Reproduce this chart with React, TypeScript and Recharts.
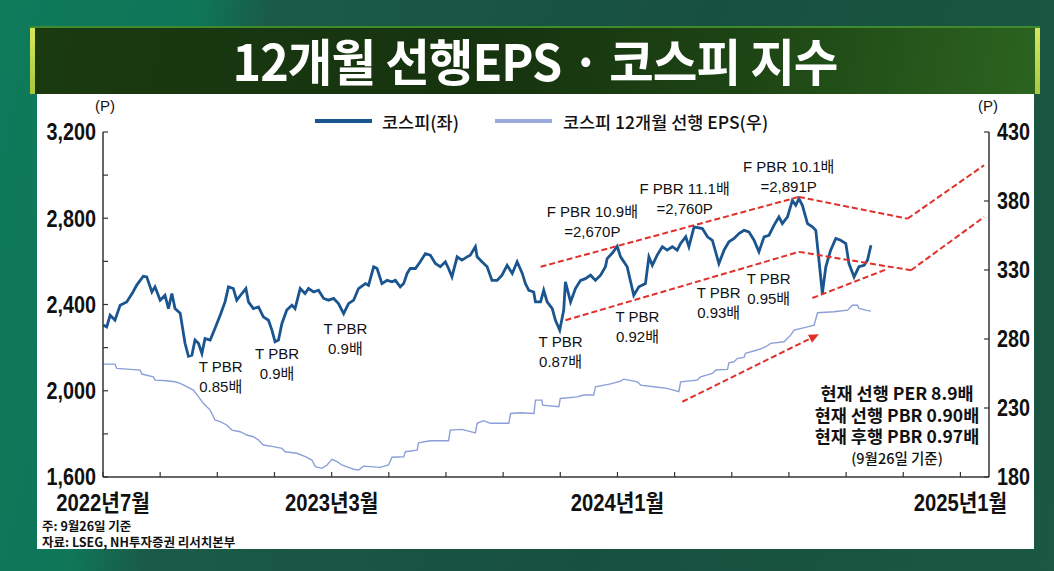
import React from "react";
import {
  LineChart,
  Line,
  XAxis,
  YAxis,
  ReferenceLine,
  ReferenceDot,
} from "recharts";

// x = months since 2022-07-01
const kospiPoints: [number, number][] = [
  [0.01, 2305], [0.13, 2296], [0.25, 2350], [0.42, 2327], [0.6, 2397], [0.83, 2412],
  [1.05, 2458], [1.18, 2490], [1.41, 2531], [1.53, 2528], [1.71, 2458], [1.82, 2482],
  [2.0, 2420], [2.17, 2443], [2.29, 2381], [2.41, 2451], [2.52, 2381], [2.7, 2360],
  [2.87, 2220], [2.99, 2160], [3.11, 2165], [3.22, 2235], [3.34, 2220], [3.46, 2173],
  [3.57, 2242], [3.75, 2235], [3.92, 2290], [4.1, 2350], [4.27, 2412], [4.39, 2482],
  [4.56, 2474], [4.68, 2420], [4.86, 2451], [5.0, 2474], [5.09, 2412], [5.26, 2381],
  [5.44, 2389], [5.61, 2343], [5.79, 2327], [5.91, 2281], [6.02, 2227], [6.14, 2235],
  [6.26, 2312], [6.43, 2374], [6.61, 2397], [6.72, 2381], [6.9, 2474], [7.07, 2451],
  [7.19, 2474], [7.37, 2458], [7.54, 2466], [7.72, 2428], [7.89, 2420], [8.07, 2428],
  [8.24, 2404], [8.42, 2358], [8.59, 2404], [8.77, 2420], [8.94, 2474], [9.18, 2497],
  [9.29, 2489], [9.47, 2575], [9.59, 2567], [9.76, 2497], [9.94, 2512], [10.11, 2505],
  [10.23, 2512], [10.4, 2482], [10.52, 2497], [10.64, 2544], [10.75, 2567], [10.93, 2567],
  [11.1, 2598], [11.28, 2636], [11.45, 2629], [11.63, 2590], [11.8, 2575], [11.98, 2598],
  [12.09, 2567], [12.21, 2528], [12.39, 2621], [12.56, 2606], [12.74, 2621], [12.85, 2629],
  [13.03, 2668], [13.09, 2621], [13.26, 2598], [13.44, 2575], [13.61, 2512], [13.79, 2512],
  [13.96, 2536], [14.14, 2582], [14.32, 2544], [14.49, 2598], [14.67, 2544], [14.78, 2497],
  [14.9, 2466], [15.07, 2458], [15.13, 2412], [15.31, 2412], [15.42, 2466], [15.54, 2412],
  [15.72, 2381], [15.83, 2327], [15.98, 2281], [16.12, 2374], [16.18, 2505], [16.36, 2412],
  [16.53, 2474], [16.71, 2512], [16.88, 2520], [17.06, 2536], [17.23, 2512], [17.41, 2536],
  [17.58, 2575], [17.64, 2613], [17.83, 2640], [17.99, 2670], [18.11, 2621], [18.34, 2575],
  [18.57, 2443], [18.75, 2482], [18.98, 2497], [19.1, 2621], [19.22, 2582], [19.39, 2629],
  [19.57, 2668], [19.74, 2652], [19.92, 2668], [20.09, 2652], [20.21, 2683], [20.39, 2714],
  [20.5, 2668], [20.68, 2760], [20.97, 2752], [21.15, 2714], [21.32, 2698], [21.55, 2590],
  [21.73, 2652], [21.9, 2691], [22.08, 2706], [22.25, 2729], [22.43, 2744], [22.6, 2737],
  [22.78, 2698], [22.95, 2644], [23.13, 2714], [23.3, 2721], [23.48, 2768], [23.65, 2806],
  [23.77, 2775], [23.95, 2806], [24.12, 2883], [24.24, 2860], [24.35, 2891], [24.47, 2860],
  [24.65, 2775], [24.82, 2760], [24.94, 2744], [25.05, 2606], [25.17, 2451], [25.29, 2575],
  [25.46, 2652], [25.64, 2706], [25.81, 2698], [25.99, 2683], [26.1, 2590], [26.28, 2528],
  [26.45, 2575], [26.63, 2582], [26.75, 2606], [26.87, 2675],
];

const epsPoints: [number, number][] = [
  [0.01, 261.8], [0.42, 261.8], [0.48, 258.7], [0.95, 258], [1.3, 257.5], [1.36, 254.6],
  [1.76, 252.6], [1.82, 250.2], [2.23, 249.7], [2.52, 249], [2.7, 247.8], [2.93, 245.4],
  [3.16, 243], [3.34, 238.2], [3.51, 233.4], [3.75, 228.5], [3.92, 221.3], [4.1, 220.1],
  [4.33, 217.7], [4.51, 214], [4.8, 212.8], [5.03, 210.4], [5.26, 209.2], [5.44, 206.8],
  [5.61, 203.2], [5.96, 202], [6.26, 200.8], [6.37, 198.3], [6.78, 197.2], [7.08, 194.7],
  [7.31, 192.3], [7.43, 187.5], [7.66, 186.3], [7.84, 188.7], [8.01, 192.8], [8.19, 191.1],
  [8.36, 188.7], [8.59, 187], [8.77, 185.6], [8.94, 185.1], [9.12, 187.9], [9.7, 187],
  [9.99, 188.7], [10.11, 194.3], [10.52, 194.7], [10.58, 198.3], [10.99, 199.5], [11.04, 204.8],
  [11.45, 206.3], [12.09, 206.3], [12.15, 214], [12.56, 214.5], [13.03, 212], [13.09, 218.9],
  [13.32, 220.8], [13.55, 218.9], [14.2, 218.9], [14.26, 226], [14.61, 226.6], [15.08, 226],
  [15.13, 235.7], [15.36, 235.7], [15.38, 232.1], [15.95, 230.9], [16.0, 236.9], [16.59, 238.1],
  [16.82, 239.4], [17.17, 239.4], [17.23, 245.4], [17.76, 247.5], [18.11, 249.5], [18.22, 250.9],
  [18.7, 249], [18.81, 246.6], [19.27, 245.4], [19.74, 244.2], [20.15, 241.8], [20.21, 249],
  [20.79, 250.2], [20.91, 252.6], [21.32, 255], [21.44, 257.5], [21.85, 258], [21.9, 262.8],
  [22.08, 263.5], [22.2, 266], [22.43, 266.7], [22.48, 269.6], [22.89, 272], [23.19, 274.4],
  [23.36, 276.8], [23.83, 278], [24.06, 282.8], [24.18, 286.4], [24.65, 288.8], [24.88, 290],
  [25.0, 299], [25.58, 299.7], [26.05, 300.9], [26.22, 304.5], [26.4, 304.5], [26.45, 302.1],
  [26.69, 300.9], [26.87, 300.2],
];

const leftTicks = [1600, 1800, 2000, 2200, 2400, 2600, 2800, 3000, 3200];
const rightTicks = [180, 230, 280, 330, 380, 430];
const xTicks = [0, 2, 4, 6, 8, 10, 12, 14, 16, 18, 20, 22, 24, 26, 28, 30];
const xTickLabels: Record<number, string> = {
  0: "2022년7월",
  8: "2023년3월",
  18: "2024년1월",
  30: "2025년1월",
};

// trend lines (left axis)
const upperChannel: [number, number][] = [[15.31, 2575], [24.35, 2899], [28.15, 2798], [30.83, 3046]];
const lowerChannel: [number, number][] = [[16.18, 2327], [24.35, 2644], [28.27, 2559], [30.83, 2806]];
const supportLine: [number, number][] = [[24.82, 2430], [27.45, 2565]];
const epsArrow: [number, number][] = [[20.27, 1949], [25.05, 2262]];

const notes: { m: number; v: number; lines: string[] }[] = [
  { m: 4.12, v: 2114, lines: ["T PBR", "0.85배"] },
  { m: 6.09, v: 2173, lines: ["T PBR", "0.9배"] },
  { m: 8.48, v: 2290, lines: ["T PBR", "0.9배"] },
  { m: 16.01, v: 2227, lines: ["T PBR", "0.87배"] },
  { m: 18.7, v: 2342, lines: ["T PBR", "0.92배"] },
  { m: 21.54, v: 2457, lines: ["T PBR", "0.93배"] },
  { m: 23.29, v: 2520, lines: ["T PBR", "0.95배"] },
  { m: 17.12, v: 2829, lines: ["F PBR 10.9배", "=2,670P"] },
  { m: 20.35, v: 2939, lines: ["F PBR 11.1배", "=2,760P"] },
  { m: 23.99, v: 3038, lines: ["F PBR 10.1배", "=2,891P"] },
];

const currentText = ["현재 선행 PER 8.9배", "현재 선행 PBR 0.90배", "현재 후행 PBR 0.97배"];

const KOSPI_COLOR = "#1a5590";
const EPS_COLOR = "#8c9fd8";
const RED = "#e0302c";
const AXIS = "#333";
const NUM_FONT = "'Liberation Sans', 'Noto Sans CJK KR', sans-serif";
const TEXT_FONT = "'Liberation Sans', 'Noto Sans CJK KR', sans-serif";
const KR_FONT = "'Noto Sans CJK KR', sans-serif";

const kospiData = kospiPoints.map(([m, v]) => ({ m, v }));
const epsData = epsPoints.map(([m, v]) => ({ m, v }));

// condensed bold label, like the original artwork
const NarrowText = ({ x, y, anchor, size, sx, children }: any) => (
  <text
    transform={`translate(${x},${y}) scale(${sx},1)`}
    x={0}
    y={0}
    dy="0.36em"
    textAnchor={anchor}
    fontSize={size}
    fontWeight="bold"
    fontFamily={NUM_FONT}
    fill="#111"
  >
    {children}
  </text>
);

const LeftTick = (props: any) => {
  const { x, y, payload } = props;
  return (
    <g>
      <line x1={x + 7} x2={x + 12} y1={y} y2={y} stroke={AXIS} strokeWidth={1.2} />
      {payload.value % 400 === 0 && (
        <NarrowText x={x} y={y} anchor="end" size={23} sx={0.86}>
          {payload.value.toLocaleString("en-US")}
        </NarrowText>
      )}
    </g>
  );
};

const RightTick = (props: any) => {
  const { x, y, payload } = props;
  return (
    <g>
      <line x1={x - 8} x2={x - 13} y1={y} y2={y} stroke={AXIS} strokeWidth={1.2} />
      <NarrowText x={x} y={y} anchor="start" size={23} sx={0.86}>
        {payload.value}
      </NarrowText>
    </g>
  );
};

const BottomTick = (props: any) => {
  const { x, y, payload } = props;
  const label = xTickLabels[payload.value];
  return (
    <g>
      <line x1={x} x2={x} y1={y} y2={y - 5} stroke={AXIS} strokeWidth={1.2} />
      {label && (
        <NarrowText x={x} y={y + 26} anchor="middle" size={23} sx={0.88}>
          {label}
        </NarrowText>
      )}
    </g>
  );
};

const Arrow = (props: any) => {
  const { x1, y1, x2, y2 } = props;
  const a = Math.atan2(y2 - y1, x2 - x1);
  const len = 10;
  const w = 4.5;
  const bx = x2 - len * Math.cos(a);
  const by = y2 - len * Math.sin(a);
  const px = -Math.sin(a) * w;
  const py = Math.cos(a) * w;
  return (
    <g>
      <line x1={x1} y1={y1} x2={bx} y2={by} stroke={RED} strokeWidth={2} strokeDasharray="6 3" />
      <polygon points={`${x2},${y2} ${bx + px},${by + py} ${bx - px},${by - py}`} fill={RED} />
    </g>
  );
};

const segments = (pts: [number, number][]) =>
  pts.slice(1).map((p, i) => [
    { x: pts[i][0], y: pts[i][1] },
    { x: p[0], y: p[1] },
  ]);

export default function App() {
  const redLines = [...segments(upperChannel), ...segments(lowerChannel), ...segments(supportLine)];
  return (
    <div
      style={{
        position: "absolute",
        left: 0,
        top: 0,
        width: 1054,
        height: 571,
        overflow: "hidden",
        fontFamily: TEXT_FONT,
        background:
          "linear-gradient(103deg, #0f7b5b 0%, #0f7658 17%, #1a5b47 23%, #18503f 60%, #1a5843 100%)",
      }}
    >
      {/* title bar */}
      <div
        style={{
          position: "absolute",
          left: 30,
          top: 26,
          width: 1010,
          height: 68,
          boxSizing: "border-box",
          borderTop: "2px solid #3f8a2e",
          background: "linear-gradient(100deg, #1a3a10 0%, #16330f 45%, #1d4414 70%, #2c6420 100%)",
        }}
      >
        <div style={{ position: "absolute", left: 0, top: 0, width: 5, height: 66, background: "linear-gradient(#d6e85a, #a8c83c)" }} />
        <div style={{ position: "absolute", right: 0, top: 0, width: 5, height: 66, background: "linear-gradient(#d6e85a, #a8c83c)" }} />
        <div
          style={{
            position: "absolute",
            left: 0,
            width: 1010,
            top: 0,
            textAlign: "center",
            color: "#fff",
            fontFamily: KR_FONT,
            fontWeight: 700,
            fontSize: 50,
            lineHeight: "62px",
            letterSpacing: -1,
            transform: "scaleX(0.97)",
          }}
        >
          12개월 선행EPS · 코스피 지수
        </div>
      </div>

      {/* white panel */}
      <div style={{ position: "absolute", left: 37, top: 94, width: 997, height: 455, background: "#fff" }}>
        <LineChart width={997} height={454} margin={{ top: 38, right: 0, bottom: 0, left: 0 }}>
          <XAxis
            type="number"
            dataKey="m"
            domain={[0, 31]}
            ticks={xTicks}
            allowDataOverflow
            tickSize={0}
            tickMargin={0}
            height={71}
            axisLine={{ stroke: AXIS, strokeWidth: 1.5 }}
            tick={<BottomTick />}
            interval={0}
          />
          <YAxis
            yAxisId="left"
            domain={[1600, 3200]}
            ticks={leftTicks}
            width={66}
            tickSize={0}
            tickMargin={7}
            axisLine={{ stroke: AXIS, strokeWidth: 1.5 }}
            tick={<LeftTick />}
            interval={0}
          />
          <YAxis
            yAxisId="right"
            orientation="right"
            domain={[180, 430]}
            ticks={rightTicks}
            width={45}
            tickSize={0}
            tickMargin={8}
            axisLine={{ stroke: AXIS, strokeWidth: 1.5 }}
            tick={<RightTick />}
            interval={0}
          />
          <Line
            yAxisId="right"
            data={epsData}
            dataKey="v"
            type="linear"
            stroke={EPS_COLOR}
            strokeWidth={1.4}
            dot={false}
            isAnimationActive={false}
          />
          <Line
            yAxisId="left"
            data={kospiData}
            dataKey="v"
            type="linear"
            stroke={KOSPI_COLOR}
            strokeWidth={2.8}
            dot={false}
            isAnimationActive={false}
          />
          {redLines.map((seg, i) => (
            <ReferenceLine
              key={i}
              yAxisId="left"
              segment={seg}
              stroke={RED}
              strokeWidth={2}
              strokeDasharray="6 3"
            />
          ))}
          <ReferenceLine
            yAxisId="left"
            segment={[
              { x: epsArrow[0][0], y: epsArrow[0][1] },
              { x: epsArrow[1][0], y: epsArrow[1][1] },
            ]}
            shape={(p: any) => <Arrow {...p} />}
          />
          {notes.map((n, i) => (
            <ReferenceDot
              key={"n" + i}
              yAxisId="left"
              x={n.m}
              y={n.v}
              r={0}
              ifOverflow="visible"
              shape={(p: any) => (
                <g>
                  {n.lines.map((t, j) => (
                    <text
                      key={j}
                      x={p.cx}
                      y={p.cy + j * 20}
                      dy="0.36em"
                      textAnchor="middle"
                      fontSize={15}
                      fontFamily={TEXT_FONT}
                      fill="#111"
                    >
                      {t}
                    </text>
                  ))}
                </g>
              )}
            />
          ))}
        </LineChart>

        {/* axis units */}
        <div style={{ position: "absolute", left: 56, top: 3, width: 24, textAlign: "center", fontSize: 15, color: "#111" }}>(P)</div>
        <div style={{ position: "absolute", left: 939, top: 3, width: 24, textAlign: "center", fontSize: 15, color: "#111" }}>(P)</div>

        {/* legend */}
        <div style={{ position: "absolute", left: 278, top: 15, height: 24, display: "flex", alignItems: "center", fontSize: 17.5, color: "#111", fontFamily: KR_FONT, fontWeight: 500, whiteSpace: "nowrap" }}>
          <span style={{ display: "inline-block", width: 57, height: 4, background: KOSPI_COLOR, marginRight: 10 }} />
          <span style={{ marginRight: 36 }}>코스피(좌)</span>
          <span style={{ display: "inline-block", width: 57, height: 4, background: "#9aa9de", marginRight: 11 }} />
          <span>코스피 12개월 선행 EPS(우)</span>
        </div>

        {/* current valuation block */}
        <div style={{ position: "absolute", left: 760, top: 288, width: 200, textAlign: "center", color: "#111", fontFamily: KR_FONT, whiteSpace: "nowrap" }}>
          {currentText.map((t) => (
            <div key={t} style={{ fontSize: 17.5, fontWeight: 600, lineHeight: "21.5px", height: 21.5 }}>{t}</div>
          ))}
          <div style={{ fontSize: 14.5, lineHeight: "22px", fontWeight: 500 }}>(9월26일 기준)</div>
        </div>

        {/* footnotes */}
        <div style={{ position: "absolute", left: 5, top: 424, fontSize: 12.5, lineHeight: "16px", color: "#111", fontFamily: KR_FONT, fontWeight: 600, whiteSpace: "nowrap" }}>
          <div>주: 9월26일 기준</div>
          <div>자료: LSEG, NH투자증권 리서치본부</div>
        </div>
      </div>
    </div>
  );
}
